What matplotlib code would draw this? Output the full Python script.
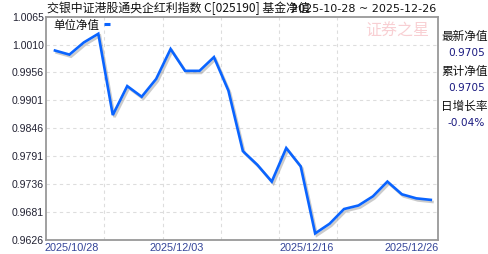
import matplotlib

matplotlib.use("Agg")
import matplotlib.pyplot as plt
import matplotlib.patheffects as pe
from matplotlib.transforms import ScaledTranslation, blended_transform_factory

CJK = ["Noto Sans CJK SC", "DejaVu Sans"]

# 单位净值, one point per trading day (2025-11-20 .. 2025-12-26)
dates = ["11/20", "11/21", "11/24", "11/25", "11/26", "11/27", "11/28",
         "12/01", "12/02", "12/03", "12/04", "12/05", "12/08", "12/09",
         "12/10", "12/11", "12/12", "12/15", "12/16", "12/17", "12/18",
         "12/19", "12/22", "12/23", "12/24", "12/25", "12/26"]
nav = [0.9999, 0.9991, 1.0015, 1.0032, 0.9872, 0.9929, 0.9908,
       0.9943, 1.0002, 0.9959, 0.9959, 0.9986, 0.9920, 0.9801,
       0.9774, 0.9741, 0.9807, 0.9771, 0.9639, 0.9658, 0.9687,
       0.9694, 0.9712, 0.9741, 0.9716, 0.9708, 0.9705]
y_ticks = [1.0065, 1.0010, 0.9956, 0.9901, 0.9846, 0.9791, 0.9736, 0.9681, 0.9626]
x_labels = [("2025/10/28", None), ("2025/12/03", "12/03"),
            ("2025/12/16", "12/16"), ("2025/12/26", None)]
side_info = [("最新净值", "0.9705"), ("累计净值", "0.9705"), ("日增长率", "-0.04%")]
title = "交银中证港股通央企红利指数 C[025190] 基金净值"
date_range = "2025-10-28 ~ 2025-12-26"

fig = plt.figure(figsize=(4.88, 2.55), dpi=100)
ax = fig.add_axes([46 / 488, 14 / 255, 392 / 488, 223 / 255])

xs = list(range(len(nav)))
ax.plot(xs, nav, color="#0a64ff", lw=1.9, solid_joinstyle="miter",
        path_effects=[pe.SimpleLineShadow(offset=(1.2, -1.5), shadow_color="#999999", alpha=0.5),
                      pe.Normal()])

ax.set_xlim(-0.62, 26.5)
ax.set_ylim(y_ticks[-1], y_ticks[0])
ax.set_xticks([])
ax.set_yticks([])

# grid
for y in y_ticks[1:-1]:
    ax.axhline(y, color="#dddddd", lw=0.8, ls=(0, (3, 3)), zorder=0)
for gx in [3.4, 7.45, 11.5, 15.5, 19.5]:
    ax.axvline(gx, color="#dddddd", lw=0.8, ls=(0, (3, 3)), zorder=0)

for s in ax.spines.values():
    s.set_color("#999999")
    s.set_linewidth(1.3)

# y labels
ytr = blended_transform_factory(ax.transAxes, ax.transData)
for y in y_ticks:
    ax.text(-0.005, y, f"{y:.4f}", transform=ytr, ha="right", va="center",
            fontsize=7.6, family="Liberation Sans", color="#222233")

# x labels
xtr = blended_transform_factory(ax.transData, ax.transAxes)
for i, (lab, d) in enumerate(x_labels):
    if d is None and i == 0:
        ax.text(-0.005, -0.01, lab, transform=ax.transAxes, ha="left", va="top",
                fontsize=7.8, family="Liberation Sans", color="#334499")
    elif d is None:
        ax.text(1.002, -0.01, lab, transform=ax.transAxes, ha="right", va="top",
                fontsize=7.8, family="Liberation Sans", color="#334499")
    else:
        off = ScaledTranslation(-8.5 / 100, 0, fig.dpi_scale_trans)
        ax.text(dates.index(d), -0.01, lab, transform=xtr + off, ha="center", va="top",
                fontsize=7.8, family="Liberation Sans", color="#334499")

# legend
ax.text(7 / 392, 1 - 8 / 223, "单位净值", transform=ax.transAxes, ha="left", va="center",
        fontsize=8.3, family=CJK, color="#111111")
ax.plot([58 / 392, 64 / 392], [1 - 7 / 223] * 2, transform=ax.transAxes,
        color="#0a64ff", lw=2.2, solid_capstyle="butt", clip_on=False)

# watermark
fig.text(397 / 488, 1 - 31 / 255, "证券之星", ha="center", va="center",
         fontsize=11.5, family=CJK, color="#f7c4c8", alpha=0.8)

# title
fig.text(47 / 488, 1 - 8.5 / 255, title, ha="left", va="center",
         fontsize=8.6, family=CJK, color="#111111")
fig.text(436 / 488, 1 - 8.5 / 255, date_range, ha="right", va="center",
         fontsize=8, family="DejaVu Sans", color="#111111")

# side panel
for k, (lab, val) in enumerate(side_info):
    y0 = 36 + k * 35
    fig.text(441 / 488, 1 - y0 / 255, lab, ha="left", va="center",
             fontsize=8.4, family=CJK, color="#111111")
    fig.text(485 / 488, 1 - (y0 + 17) / 255, val, ha="right", va="center",
             fontsize=7.6, family="DejaVu Sans", color="#1a1a80")

fig.savefig("out.png", dpi=100)
